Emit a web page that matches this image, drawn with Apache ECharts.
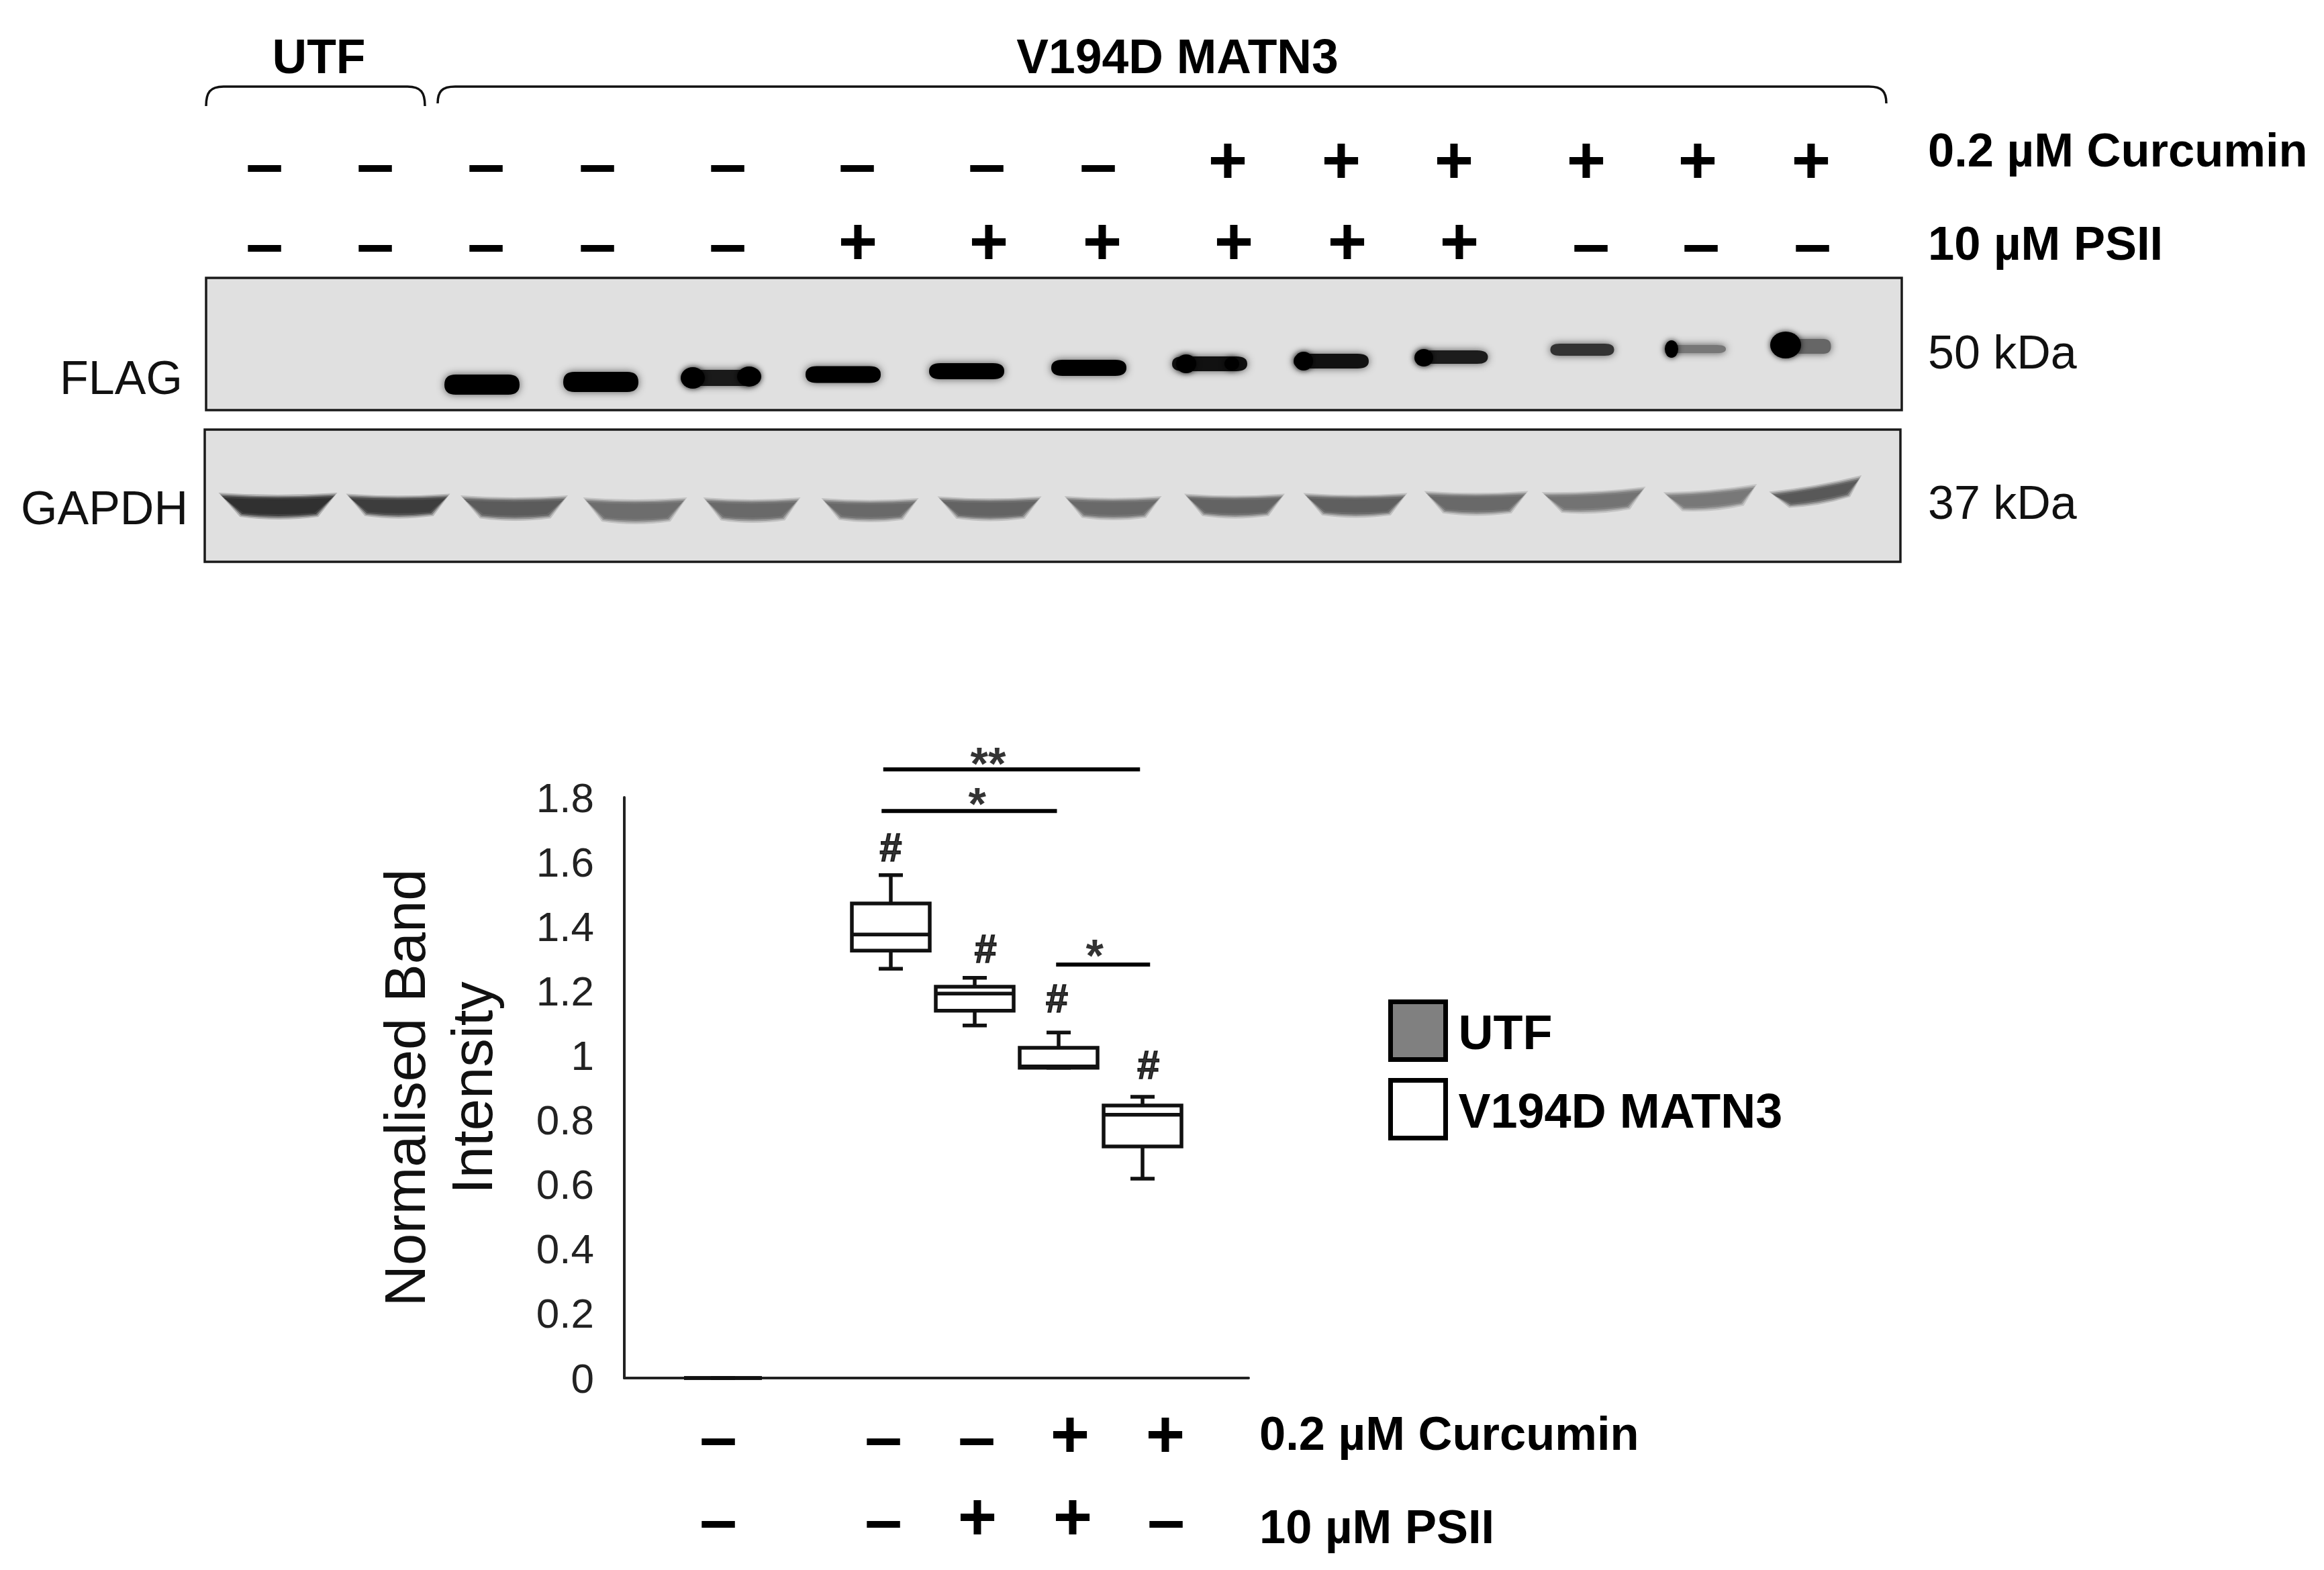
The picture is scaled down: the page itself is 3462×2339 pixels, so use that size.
<!DOCTYPE html>
<html><head><meta charset="utf-8">
<style>html,body{margin:0;padding:0;background:#fff}#c{width:3462px;height:2339px}</style>
<script src="https://cdn.jsdelivr.net/npm/echarts@6/dist/echarts.min.js"></script>
</head><body><div id="c"></div>
<script>
// ---- chart values ----
const yTicks = [0, 0.2, 0.4, 0.6, 0.8, 1, 1.2, 1.4, 1.6, 1.8];
const seriesNames = ['UTF', 'V194D MATN3'];
const yAxisTitle = 'Normalised Band\nIntensity';
const curcuminLabel = '0.2 µM Curcumin';
const psiiLabel = '10 µM PSII';
// [slot, low, q1, median, q3, high]
const utfBox = [[1, 0, 0, 0, 0, 0]];
const matn3Boxes = [
  [3, 1.269, 1.325, 1.375, 1.471, 1.559],
  [4, 1.093, 1.139, 1.192, 1.213, 1.241],
  [5, 0.962, 0.962, 0.966, 1.024, 1.071],
  [6, 0.618, 0.718, 0.816, 0.845, 0.872]
];
const sigStart = [2.91, 2.89, 4.97];
const sigEnd = [5.97, 4.98, 6.09];
const sigLevel = [1.887, 1.758, 1.282];
const sigMarks = [[4.16, 1.896, '**'], [4.03, 1.771, '*'], [5.43, 1.301, '*'],
  [3.0, 1.636, '#'], [4.13, 1.322, '#'], [4.98, 1.168, '#'], [6.07, 0.962, '#']];
// treatment rows: blot lanes
const curcuminBlot = ['–','–','–','–','–','–','–','–','+','+','+','+','+','+'];
const psiiBlot     = ['–','–','–','–','–','+','+','+','+','+','+','–','–','–'];
const curcuminPlot = ['–','–','–','+','+'];
const psiiPlot     = ['–','–','+','+','–'];
// blot band readings (panel units)
const flagLane = [411,588,767,949,1133,1315,1495,1676,1856,2050,2219,2383];
const flagBandY = [159,155,149,144,139,134,128,124,118,107,106,102];
const flagWidth = [112,112,108,112,112,112,112,112,107,95,90,75];
const flagHeight = [30,30,24,25,24,24,22,22,20,18,12,22];
const flagTone = ['#000','#000','#1a1a1a','#000','#000','#000','#111','#111','#1c1c1c','#333','#777','#666'];
const flagCoreLane = [725,809,1460,1528,1635,1814,2183,2353];
const flagCoreY = [149,147,128,128,124,119,106,100];
const flagCoreWidth = [36,36,30,22,28,28,20,46];
const flagCoreHeight = [32,30,28,20,28,26,26,40];
const gapdhLane = [109,288,461,641,815,991,1169,1353,1534,1714,1894,2070,2244,2402];
const gapdhBandY = [114,114,117,121,120,120,118,117,114,113,110,107,104,96];
const gapdhWidth = [167,145,150,145,135,135,145,135,140,145,145,145,130,130];
const gapdhHeight = [30,27,28,30,28,26,27,26,27,27,27,26,24,22];
const gapdhTone = ['#2c2c2c','#3a3a3a','#585858','#6a6a6a','#666','#666','#606060','#666','#606060','#5c5c5c','#666','#707070','#757575','#555'];
const gapdhTilt = [0,0,0,0,0,0,0,0,0,0,0,3,5,10];

// ---- layout ----
const FONT = '"Liberation Sans", Arial, sans-serif';
const blotLaneCurc = [394,559,724,890,1084,1277,1470,1636,1829,1998,2166,2363,2529,2698];
const blotLanePsii = [394,559,724,890,1084,1278,1473,1642,1838,2007,2174,2370,2534,2700];
const plotLaneCurc = [1070,1316,1455,1594,1736];
const plotLanePsii = [1070,1316,1456,1598,1737];

function txt(x, y, text, size, bold, align, fill) {
  return { type: 'text', silent: true, style: { x, y, text,
    font: (bold ? 'bold ' : '') + size + 'px ' + FONT,
    textAlign: align || 'left', textVerticalAlign: 'middle', fill: fill || '#000' } };
}
function signs(list, lanes, plusY, minusY) {
  return list.map((s, i) => txt(lanes[i], s === '+' ? plusY : minusY, s, 100, true, 'center'));
}
// a horizontal bracket with curved ends
function brace(x1, x2, top, bottom) {
  const st = { fill: 'none', stroke: '#111', lineWidth: 3.5 };
  const r = 26, h = bottom - top;
  return [
    { type: 'line', silent: true, shape: { x1: x1 + r, y1: top, x2: x2 - r, y2: top }, style: st },
    { type: 'bezierCurve', silent: true, shape: { x1, y1: bottom, cpx1: x1, cpy1: top + h * 0.3, cpx2: x1 + 6, cpy2: top, x2: x1 + r, y2: top }, style: st },
    { type: 'bezierCurve', silent: true, shape: { x1: x2, y1: bottom, cpx1: x2, cpy1: top + h * 0.3, cpx2: x2 - 6, cpy2: top, x2: x2 - r, y2: top }, style: st }
  ];
}

function renderBox(params, api) {
  const x = api.value(0);
  const pt = i => api.coord([x, api.value(i)]);
  const low = pt(1), q1 = pt(2), med = pt(3), q3 = pt(4), high = pt(5);
  const half = 58, cap = 18, cx = low[0];
  const ln = { stroke: '#111', lineWidth: 5.5, fill: null };
  const line = (x1, y1, x2, y2) => ({ type: 'line', shape: { x1, y1, x2, y2 }, style: ln });
  return { type: 'group', children: [
    line(cx, high[1], cx, q3[1]), line(cx, low[1], cx, q1[1]),
    line(cx - cap, high[1], cx + cap, high[1]), line(cx - cap, low[1], cx + cap, low[1]),
    { type: 'rect', shape: { x: cx - half, y: q3[1], width: half * 2, height: q1[1] - q3[1] },
      style: { stroke: '#111', lineWidth: 5.5, fill: '#fff' } },
    line(cx - half, med[1], cx + half, med[1])
  ] };
}

const hiddenAxis = (min, max, inverse, gridIndex) => ({ type: 'value', min, max, inverse, gridIndex, show: false });
const STADIUM = 'path://M15 0 L85 0 Q100 0 100 50 Q100 100 85 100 L15 100 Q0 100 0 50 Q0 0 15 0 Z';
const TRAPEZOID = 'path://M0 0 Q50 14 100 0 L84 82 Q50 100 18 82 Z';

// one soft layer of GAPDH bands, so that the layers together fade at the edge
function gapdhLayer(grow, opacity, z) {
  return { name: 'GAPDH', type: 'scatter', xAxisIndex: 2, yAxisIndex: 2, silent: true, z,
    symbol: TRAPEZOID,
    data: gapdhLane.map((x, i) => ({ value: [x, gapdhBandY[i]], symbolRotate: gapdhTilt[i] })),
    symbolSize: (v, p) => [gapdhWidth[p.dataIndex] + grow, gapdhHeight[p.dataIndex] + grow],
    itemStyle: { opacity, color: p => gapdhTone[p.dataIndex] } };
}

const option = {
  animation: false,
  backgroundColor: '#fff',
  textStyle: { fontFamily: FONT },
  grid: [
    { left: 930, top: 1188, width: 930, height: 865, containLabel: false },
    { left: 307, top: 414, width: 2526, height: 197, show: true, backgroundColor: '#e0e0e0', borderColor: '#1a1a1a', borderWidth: 3.5 },
    { left: 305, top: 640, width: 2526, height: 197, show: true, backgroundColor: '#e0e0e0', borderColor: '#1a1a1a', borderWidth: 3.5 }
  ],
  xAxis: [
    { type: 'value', gridIndex: 0, min: -0.176, max: 7.264, splitLine: { show: false },
      axisTick: { show: false }, axisLabel: { show: false },
      axisLine: { show: true, onZero: false, lineStyle: { color: '#222', width: 4 } } },
    hiddenAxis(0, 2526, false, 1),
    hiddenAxis(0, 2526, false, 2)
  ],
  yAxis: [
    { type: 'value', gridIndex: 0, min: 0, max: 1.8, interval: 0.2, splitLine: { show: false },
      axisTick: { show: false },
      axisLine: { show: true, onZero: false, lineStyle: { color: '#222', width: 4 } },
      axisLabel: { margin: 45, formatter: v => '{t|' + Number(v.toFixed(1)) + '}',
        rich: { t: { fontSize: 62, color: '#222', fontFamily: FONT, padding: [9, 0, 0, 0] } } },
      name: yAxisTitle, nameLocation: 'middle', nameRotate: 90, nameGap: 170,
      nameTextStyle: { fontSize: 85, color: '#111', fontFamily: FONT, lineHeight: 100 } },
    hiddenAxis(0, 197, true, 1),
    hiddenAxis(0, 197, true, 2)
  ],
  legend: { orient: 'vertical', left: 2068, top: 1489, itemWidth: 82, itemHeight: 86, itemGap: 24,
    selectedMode: false, padding: 0, formatter: n => '{t|' + n + '}',
    textStyle: { padding: [0, 0, 0, 14],
      rich: { t: { fontSize: 72, fontWeight: 'bold', color: '#000', fontFamily: FONT, padding: [16, 0, 0, 0] } } },
    data: [
      { name: seriesNames[0], icon: 'rect', itemStyle: { color: '#808080', borderColor: '#000', borderWidth: 7 } },
      { name: seriesNames[1], icon: 'rect', itemStyle: { color: '#fff', borderColor: '#000', borderWidth: 7 } }
    ] },
  series: [
    { name: seriesNames[0], type: 'custom', xAxisIndex: 0, yAxisIndex: 0, data: utfBox, renderItem: renderBox,
      encode: { x: 0, y: [1, 2, 3, 4, 5] }, clip: false, itemStyle: { color: '#808080' }, z: 5 },
    { name: seriesNames[1], type: 'custom', xAxisIndex: 0, yAxisIndex: 0, data: matn3Boxes, renderItem: renderBox,
      encode: { x: 0, y: [1, 2, 3, 4, 5] }, clip: false, itemStyle: { color: '#fff' }, z: 5 },
    ...sigLevel.map((lv, i) => ({ name: 'sig' + i, type: 'line', xAxisIndex: 0, yAxisIndex: 0, clip: false,
      symbol: 'none', silent: true, lineStyle: { color: '#000', width: 6 },
      data: [[sigStart[i], lv], [sigEnd[i], lv]] })),
    { name: 'marks', type: 'scatter', xAxisIndex: 0, yAxisIndex: 0, clip: false, silent: true, symbolSize: 1,
      itemStyle: { color: 'transparent' },
      data: sigMarks.map(m => ({ value: m, label: m[2] === '#'
        ? { fontSize: 60, textBorderColor: '#000', textBorderWidth: 1.5 }
        : { fontSize: 68 } })),
      label: { show: true, position: 'inside', fontFamily: FONT, fontWeight: 'bold', color: '#000',
        formatter: p => p.data.value[2] } },
    // blot bands
    { name: 'FLAG', type: 'scatter', xAxisIndex: 1, yAxisIndex: 1, symbol: STADIUM, silent: true, z: 3,
      data: flagLane.map((x, i) => [x, flagBandY[i]]),
      symbolSize: (v, p) => [flagWidth[p.dataIndex], flagHeight[p.dataIndex]],
      itemStyle: { opacity: 1, color: p => flagTone[p.dataIndex], shadowBlur: 12, shadowColor: 'rgba(40,40,40,0.75)' } },
    { name: 'FLAG core', type: 'scatter', xAxisIndex: 1, yAxisIndex: 1, symbol: 'circle', silent: true, z: 4,
      data: flagCoreLane.map((x, i) => [x, flagCoreY[i]]),
      symbolSize: (v, p) => [flagCoreWidth[p.dataIndex], flagCoreHeight[p.dataIndex]],
      itemStyle: { opacity: 1, color: '#000', shadowBlur: 8, shadowColor: 'rgba(0,0,0,0.8)' } },
    gapdhLayer(10, 0.25, 2), gapdhLayer(5, 0.45, 3), gapdhLayer(0, 0.7, 4), gapdhLayer(-6, 0.8, 5)
  ],
  graphic: { elements: [
    ...brace(307, 633, 129, 158),
    ...brace(652, 2810, 129, 154),
    txt(475, 89, seriesNames[0], 71.5, true, 'center'),
    txt(1754, 89, seriesNames[1], 71.5, true, 'center'),
    txt(2872, 229, curcuminLabel, 70.5, true),
    txt(2872, 368, psiiLabel, 70.5, true),
    txt(2872, 530, '50 kDa', 70, false, 'left', '#111'),
    txt(2872, 754, '37 kDa', 70, false, 'left', '#111'),
    txt(89, 568, 'FLAG', 70, false, 'left', '#111'),
    txt(31, 762, 'GAPDH', 70, false, 'left', '#111'),
    ...signs(curcuminBlot, blotLaneCurc, 245, 250),
    ...signs(psiiBlot, blotLanePsii, 366, 369),
    ...signs(curcuminPlot, plotLaneCurc, 2143, 2147),
    ...signs(psiiPlot, plotLanePsii, 2266, 2270),
    txt(1876, 2141, curcuminLabel, 70.5, true),
    txt(1876, 2280, psiiLabel, 70.5, true)
  ] }
};
const chart = echarts.init(document.getElementById('c'), null, { renderer: 'canvas', width: 3462, height: 2339 });
chart.setOption(option);
</script></body></html>
